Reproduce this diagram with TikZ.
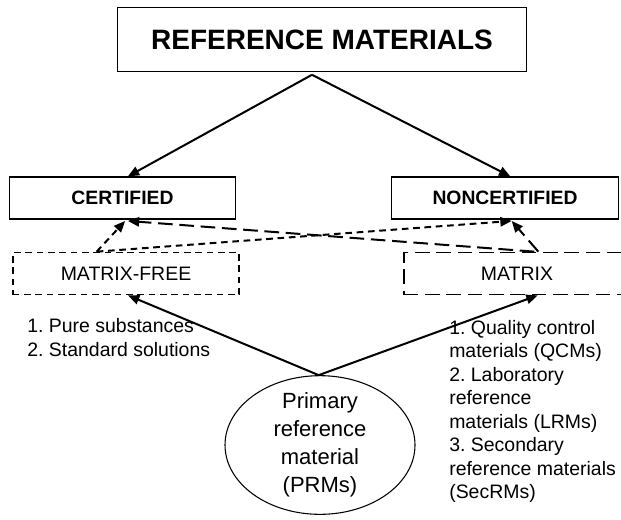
\documentclass[tikz,border=0pt]{standalone}
\usepackage{fontspec}
\setmainfont{Liberation Sans}
\usetikzlibrary{shapes.geometric,arrows.meta}

\begin{document}
\frenchspacing
\begin{tikzpicture}[x=0.75pt, y=-0.75pt,
    every node/.style={inner sep=0pt},
    box/.style={draw, line width=0.9pt, minimum width=170pt, minimum height=31.5pt},
    shortdash/.style={dash pattern=on 5pt off 3.5pt},
    longdash/.style={dash pattern=on 11pt off 5pt},
    conn/.style={-{Triangle[length=8.5pt,width=7pt]}, line width=1.5pt},
    small/.style={font=\fontsize{14.6}{17.6}\selectfont}]

    \clip (0,0) rectangle (621,519);

    \node[box, minimum width=307pt, minimum height=48pt, font=\fontsize{21}{25}\selectfont\bfseries] (title) at (322,39.5) {REFERENCE MATERIALS};
    \node[box, font=\fontsize{14.5}{17}\selectfont\bfseries] (cert) at (122.5,198) {CERTIFIED};
    \node[box, font=\fontsize{14.5}{17}\selectfont\bfseries] (noncert) at (505,198) {NONCERTIFIED};
    \node[box, small, shortdash, line width=1.3pt] (mfree) at (126,273.5) {MATRIX-FREE};
    \node[box, small, longdash, line width=1.3pt] (matrix) at (517,273.5) {MATRIX};
    \node[draw, ellipse, inner ysep=-5pt, line width=0.8pt, minimum width=142.5pt, minimum height=104pt, align=center, font=\fontsize{16.5}{21}\selectfont] (prm) at (320,445) {Primary\\reference\\material\\(PRMs)};

    \node[small, anchor=west, align=left] (pure) at (27,337.5) {1. Pure substances\\2. Standard solutions};
    \node[small, anchor=west, align=left] (kinds) at (449,411.5) {1. Quality control\\materials (QCMs)\\2. Laboratory\\reference\\materials (LRMs)\\3. Secondary\\reference materials\\(SecRMs)};

    % top split
    \draw[conn] ([xshift=-7.5pt,yshift=-2pt]title.south) -- ([xshift=4pt]cert.north);
    \draw[conn] ([xshift=-7.5pt,yshift=-2pt]title.south) -- ([xshift=4pt]noncert.north);

    % dashed cross links
    \draw[conn, shortdash] ([xshift=-22pt]mfree.north) -- ([xshift=2pt,yshift=-1pt]cert.south);
    \draw[conn, shortdash] ([xshift=-22pt]mfree.north) -- ([xshift=5pt,yshift=-1pt]noncert.south);
    \draw[conn, longdash] ([xshift=16pt]matrix.north) -- ([xshift=5pt,yshift=-1pt]noncert.south);
    \draw[conn, longdash] ([xshift=13pt]matrix.north) -- ([xshift=4pt,yshift=-1pt]cert.south);

    % from the primary material
    \draw[conn] ([xshift=-1pt]prm.north) -- ([xshift=1.5pt]mfree.south);
    \draw[conn] ([xshift=-1pt]prm.north) -- ([xshift=15.5pt]matrix.south);
\end{tikzpicture}
\end{document}
